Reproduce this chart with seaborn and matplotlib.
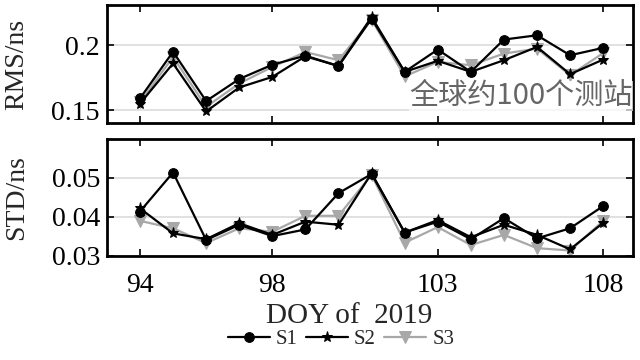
import matplotlib
matplotlib.use("Agg")
import matplotlib.pyplot as plt
import matplotlib.ticker as mticker
import seaborn as sns
import numpy as np

days = np.arange(94, 109)

rms_s1 = [0.159, 0.195, 0.157, 0.174, 0.185, 0.192, 0.184, 0.2205, 0.1795, 0.1967, 0.1795, 0.2044, 0.2077, 0.1923, 0.198]
rms_s2 = [0.155, 0.186, 0.149, 0.1675, 0.1756, 0.1915, 0.184, 0.2218, 0.1795, 0.188, 0.1795, 0.1885, 0.1987, 0.1777, 0.189]
rms_s3 = [0.156, 0.191, 0.1526, 0.1705, 0.1833, 0.1948, 0.1885, 0.2198, 0.176, 0.1872, 0.1846, 0.1936, 0.1974, 0.177, 0.194]

std_s1 = [0.0414, 0.0514, 0.0341, 0.038, 0.0351, 0.0368, 0.0461, 0.051, 0.036, 0.0388, 0.0343, 0.0397, 0.0345, 0.0371, 0.0428]
std_s2 = [0.0422, 0.0358, 0.0343, 0.0384, 0.0354, 0.0388, 0.038, 0.0512, 0.036, 0.0392, 0.0348, 0.038, 0.0354, 0.0317, 0.0385]
std_s3 = [0.039, 0.0371, 0.0333, 0.0371, 0.0362, 0.0403, 0.0403, 0.0508, 0.0334, 0.0374, 0.0328, 0.0354, 0.032, 0.0314, 0.039]

xticks = [94, 98, 103, 108]
note = "全球约100个测站"

sns.set_theme(style="ticks")
plt.rcParams["font.family"] = ["Liberation Serif", "DejaVu Serif"]

fig = plt.figure(figsize=(6.4, 3.6), dpi=100)
ax1 = fig.add_axes([0.167, 0.658, 0.822, 0.328])
ax2 = fig.add_axes([0.167, 0.289, 0.822, 0.325])

styles = [
    ("S1", dict(color="black", marker="o", markersize=7)),
    ("S2", dict(color="black", marker="*", markersize=8)),
    ("S3", dict(color="#a8a8a8", marker="v", markersize=8)),
]


def draw(ax, series):
    # draw gray series first so black lines stay on top
    for (name, st), vals in reversed(list(zip(styles, series))):
        sns.lineplot(x=days, y=vals, ax=ax, color=st["color"], marker=st["marker"],
                     markersize=st["markersize"], markeredgecolor=st["color"],
                     linewidth=1.6, label=name, legend=False)
    ax.set_xlim(93, 108.9)
    ax.set_xticks(xticks)
    ax.yaxis.grid(True, color="#dcdcdc", linewidth=1.2)
    ax.tick_params(direction="in", top=True, right=True, length=5, width=1.2,
                   labelsize=20, colors="black", pad=5)
    ax.tick_params(axis="x", pad=12)
    ax.yaxis.set_major_formatter(mticker.FuncFormatter(lambda v, p: "%g" % round(v, 4)))
    for s in ax.spines.values():
        s.set_linewidth(2)
        s.set_color("black")


draw(ax1, [rms_s1, rms_s2, rms_s3])
ax1.set_ylim(0.14, 0.231)
ax1.set_yticks([0.15, 0.2])
ax1.set_xticklabels([])
ax1.set_ylabel("RMS/ns", fontsize=20)
ax1.text(0.999, 0.23, note, transform=ax1.transAxes, ha="right", va="center",
         fontsize=21, color="#666666", family=["Noto Sans CJK SC", "DejaVu Sans"],
         bbox=dict(facecolor="white", edgecolor="none", pad=0.3, alpha=0.7))

draw(ax2, [std_s1, std_s2, std_s3])
ax2.set_ylim(0.03, 0.06)
ax2.set_yticks([0.03, 0.04, 0.05])
ax2.set_ylabel("STD/ns", fontsize=20)
ax2.set_xlabel("DOY of  2019", fontsize=21)
ax2.xaxis.set_label_coords(0.46, -0.40)

handles, labels = ax2.get_legend_handles_labels()
order = [labels.index(n) for n, _ in styles]
fig.legend([handles[i] for i in order], [labels[i] for i in order],
           loc="center", bbox_to_anchor=(0.533, 0.058), ncol=3, frameon=False,
           fontsize=15, handlelength=2.0, handletextpad=0.3, columnspacing=0.4,
           borderpad=0.1)

ax1.yaxis.set_label_coords(-0.148, 0.5)
ax2.yaxis.set_label_coords(-0.148, 0.5)

fig.savefig("out.png", dpi=100)
